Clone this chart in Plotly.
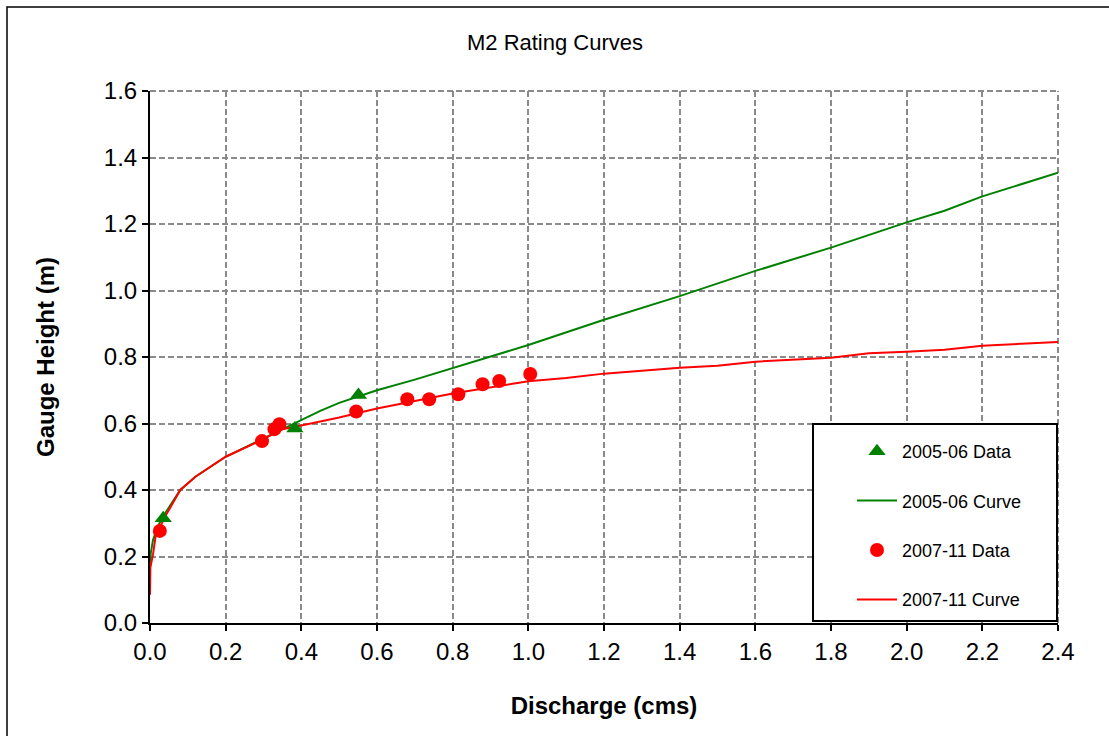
import plotly.graph_objects as go

# ---- data ----
data0506_q = [0.035, 0.383, 0.551]
data0506_h = [0.315, 0.585, 0.686]

data0711_q = [0.026, 0.296, 0.329, 0.342, 0.545, 0.680, 0.738, 0.815, 0.879, 0.923, 1.005]
data0711_h = [0.277, 0.547, 0.583, 0.598, 0.636, 0.673, 0.673, 0.688, 0.718, 0.728, 0.749]

curve0506_q = [0.0, 0.002, 0.008, 0.02, 0.04, 0.08, 0.12, 0.2, 0.3, 0.4, 0.45, 0.5, 0.6, 0.7,
               0.8, 0.9, 1.0, 1.2, 1.4, 1.6, 1.8, 2.0, 2.1, 2.2, 2.4]
curve0506_h = [0.17, 0.21, 0.25, 0.29, 0.33, 0.40, 0.44, 0.50, 0.555, 0.612, 0.638, 0.662, 0.70, 0.732,
               0.766, 0.80, 0.836, 0.912, 0.983, 1.059, 1.129, 1.205, 1.24, 1.283, 1.354]

curve0711_q = [0.0, 0.001, 0.008, 0.015, 0.04, 0.08, 0.12, 0.2, 0.3, 0.35, 0.4, 0.5, 0.6, 0.8,
               1.0, 1.1, 1.2, 1.4, 1.5, 1.6, 1.8, 1.9, 2.0, 2.1, 2.2, 2.4]
curve0711_h = [0.085, 0.167, 0.207, 0.262, 0.32, 0.40, 0.44, 0.50, 0.553, 0.583, 0.594, 0.618, 0.645, 0.69,
               0.727, 0.737, 0.75, 0.768, 0.774, 0.786, 0.798, 0.811, 0.816, 0.822, 0.834, 0.845]

x_ticks = [round(i * 0.2, 1) for i in range(13)]
y_ticks = [round(i * 0.2, 1) for i in range(9)]

GREEN = "#008000"
RED = "#ff0000"
GRID = "#8a8a8a"
FONT = "Liberation Sans, Arial, sans-serif"

fig = go.Figure()

fig.add_trace(go.Scatter(x=curve0506_q, y=curve0506_h, mode="lines", name="2005-06 Curve",
                         line=dict(color=GREEN, width=2), legendgroup="b", legendrank=2))
fig.add_trace(go.Scatter(x=curve0711_q, y=curve0711_h, mode="lines", name="2007-11 Curve",
                         line=dict(color=RED, width=2), legendgroup="d", legendrank=4))
fig.add_trace(go.Scatter(x=data0506_q, y=data0506_h, mode="markers", name="2005-06 Data",
                         marker=dict(symbol="triangle-up", size=15, color=GREEN),
                         legendgroup="a", legendrank=1))
fig.add_trace(go.Scatter(x=data0711_q, y=data0711_h, mode="markers", name="2007-11 Data",
                         marker=dict(symbol="circle", size=14, color=RED),
                         legendgroup="c", legendrank=3))

# plot area in pixels: x 150..1058, y 91..623
L, R, T, B = 150, 51, 91, 113
W, H = 1109, 736
pw, ph = W - L - R, H - T - B

def px2paper_x(px):
    return (px - L) / pw

def px2paper_y(py):
    return (H - B - py) / ph

shapes = [
    # plot-area top and right borders (dashed gray like the grid)
    dict(type="line", xref="paper", yref="paper", x0=0, x1=1, y0=1, y1=1,
         line=dict(color=GRID, width=2, dash="6px,3px"), layer="below"),
    dict(type="line", xref="paper", yref="paper", x0=1, x1=1, y0=0, y1=1,
         line=dict(color=GRID, width=2, dash="6px,3px"), layer="below"),
    # outer chart border (left and top visible)
    dict(type="rect", xref="paper", yref="paper",
         x0=px2paper_x(7), x1=px2paper_x(1125), y0=px2paper_y(760), y1=px2paper_y(7),
         line=dict(color="black", width=1.5), fillcolor="rgba(0,0,0,0)", layer="above"),
    # legend box
    dict(type="rect", xref="paper", yref="paper",
         x0=px2paper_x(813), x1=px2paper_x(1057), y0=px2paper_y(621), y1=px2paper_y(424),
         line=dict(color="black", width=2), fillcolor="white", layer="above"),
]

fig.update_layout(
    width=W, height=H,
    margin=dict(l=L, r=R, t=T, b=B),
    paper_bgcolor="white", plot_bgcolor="white",
    font=dict(family=FONT, color="black", size=24),
    title=dict(text="M2 Rating Curves", x=px2paper_x(555), xref="paper", xanchor="center",
               y=1 - 42 / H, yanchor="middle", font=dict(size=22, family=FONT)),
    xaxis=dict(range=[0, 2.4], tickmode="array", tickvals=x_ticks, tickformat=".1f",
               showline=True, linecolor="black", linewidth=2,
               ticks="outside", ticklen=6, tickwidth=2, tickcolor="black",
               showgrid=True, gridcolor=GRID, gridwidth=1.5, griddash="6px,3px",
               zeroline=False, tickfont=dict(size=24),
               title=dict(text="<b>Discharge (cms)</b>", font=dict(size=24), standoff=33)),
    yaxis=dict(range=[0, 1.6], tickmode="array", tickvals=y_ticks, tickformat=".1f",
               showline=True, linecolor="black", linewidth=2,
               ticks="outside", ticklen=6, tickwidth=2, tickcolor="black",
               showgrid=True, gridcolor=GRID, gridwidth=1.5, griddash="6px,3px",
               zeroline=False, tickfont=dict(size=24),
               title=dict(text="<b>Gauge Height (m)</b>", font=dict(size=24), standoff=42)),
    legend=dict(x=px2paper_x(852), xanchor="left", y=px2paper_y(433), yanchor="top",
                bgcolor="rgba(0,0,0,0)", borderwidth=0, font=dict(size=18),
                traceorder="grouped", tracegroupgap=23, itemwidth=40),
    shapes=shapes,
)

fig.write_html("out.html")
